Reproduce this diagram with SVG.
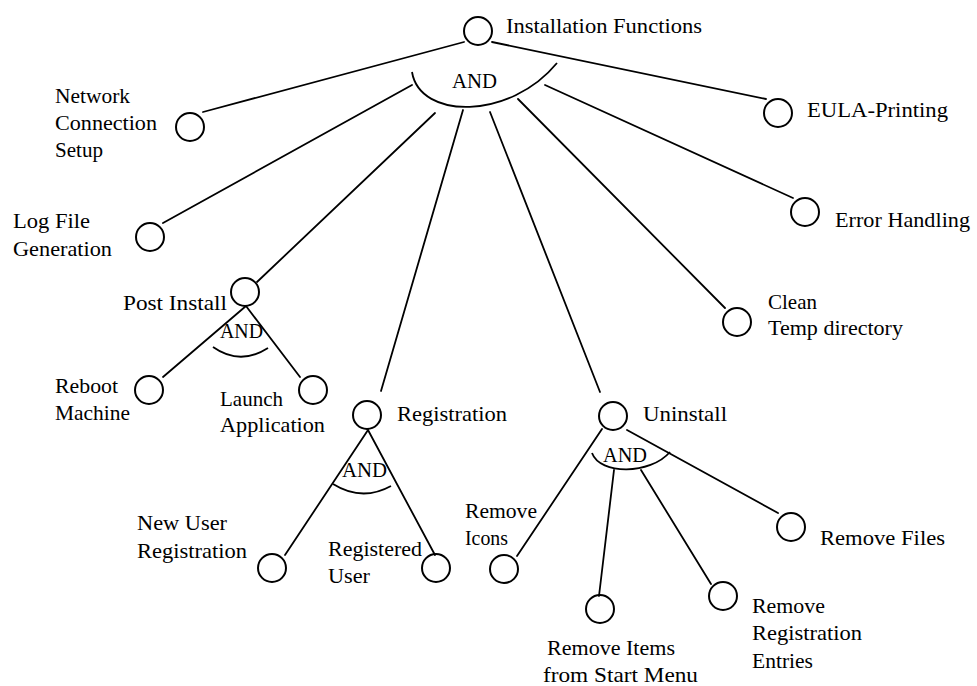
<svg xmlns="http://www.w3.org/2000/svg" width="977" height="686" viewBox="0 0 977 686">
  <style>
    .bg { fill: #ffffff; }
    .node { fill: none; stroke: #000; stroke-width: 2; }
    .edge { fill: none; stroke: #000; stroke-width: 1.8; stroke-linecap: round; }
    .and { fill: none; stroke: #000; stroke-width: 1.8; }
    text { font-family: "Liberation Serif", "Times New Roman", serif; font-size: 21px; fill: #000; }
  </style>
  <rect class="bg" x="0" y="0" width="977" height="686"/>

  <!-- connectors and AND arcs -->
  <g id="connectors">
    <line class="edge" x1="464" y1="42" x2="203" y2="112"/>
    <line class="edge" x1="492" y1="42" x2="766" y2="99"/>
    <path class="and" d="M412,72 C420,120 510,120 557,63"/>
    <line class="edge" x1="412" y1="85" x2="163" y2="223"/>
    <line class="edge" x1="435" y1="113" x2="257" y2="282"/>
    <line class="edge" x1="463" y1="110" x2="381" y2="391"/>
    <line class="edge" x1="490" y1="112" x2="600" y2="392"/>
    <line class="edge" x1="518" y1="99" x2="725" y2="308"/>
    <line class="edge" x1="545" y1="85" x2="793" y2="198"/>

    <line class="edge" x1="246" y1="306" x2="163" y2="377"/>
    <line class="edge" x1="246" y1="306" x2="300" y2="377"/>
    <path class="and" d="M213,347 Q240,366 268,348"/>

    <line class="edge" x1="368" y1="430" x2="285" y2="555"/>
    <line class="edge" x1="368" y1="430" x2="435" y2="555"/>
    <path class="and" d="M333,484 Q362,502 391,486"/>

    <line class="edge" x1="602" y1="429" x2="517" y2="556"/>
    <line class="edge" x1="627" y1="430" x2="778" y2="513"/>
    <line class="edge" x1="614" y1="470" x2="599" y2="596"/>
    <line class="edge" x1="641" y1="470" x2="711" y2="584"/>
    <path class="and" d="M592,453 C600,475 650,475 670,452"/>
  </g>

  <g id="installation-functions">
    <circle class="node" cx="478" cy="31" r="14"/>
    <text x="506" y="33" textLength="196" lengthAdjust="spacingAndGlyphs">Installation Functions</text>
    <text x="452" y="88" textLength="45" lengthAdjust="spacingAndGlyphs">AND</text>
  </g>

  <g id="network-connection-setup">
    <circle class="node" cx="190" cy="127" r="14"/>
    <text x="55" y="103" textLength="75" lengthAdjust="spacingAndGlyphs">Network</text>
    <text x="55" y="130" textLength="102" lengthAdjust="spacingAndGlyphs">Connection</text>
    <text x="55" y="157" textLength="48" lengthAdjust="spacingAndGlyphs">Setup</text>
  </g>

  <g id="eula-printing">
    <circle class="node" cx="778" cy="113" r="14"/>
    <text x="807" y="117" textLength="141" lengthAdjust="spacingAndGlyphs">EULA-Printing</text>
  </g>

  <g id="log-file-generation">
    <circle class="node" cx="150" cy="237" r="14"/>
    <text x="13" y="228" textLength="77" lengthAdjust="spacingAndGlyphs">Log File</text>
    <text x="13" y="256" textLength="99" lengthAdjust="spacingAndGlyphs">Generation</text>
  </g>

  <g id="error-handling">
    <circle class="node" cx="805" cy="212" r="14"/>
    <text x="835" y="227" textLength="135" lengthAdjust="spacingAndGlyphs">Error Handling</text>
  </g>

  <g id="post-install">
    <circle class="node" cx="245" cy="292" r="14"/>
    <text x="123" y="310" textLength="104" lengthAdjust="spacingAndGlyphs">Post Install</text>
    <text x="220" y="338" textLength="43" lengthAdjust="spacingAndGlyphs">AND</text>
  </g>

  <g id="clean-temp-directory">
    <circle class="node" cx="737" cy="322" r="14"/>
    <text x="768" y="309" textLength="49" lengthAdjust="spacingAndGlyphs">Clean</text>
    <text x="768" y="335" textLength="135" lengthAdjust="spacingAndGlyphs">Temp directory</text>
  </g>

  <g id="reboot-machine">
    <circle class="node" cx="149" cy="390" r="14"/>
    <text x="55" y="393" textLength="63" lengthAdjust="spacingAndGlyphs">Reboot</text>
    <text x="55" y="420" textLength="75" lengthAdjust="spacingAndGlyphs">Machine</text>
  </g>

  <g id="launch-application">
    <circle class="node" cx="313" cy="390" r="14"/>
    <text x="220" y="406" textLength="63" lengthAdjust="spacingAndGlyphs">Launch</text>
    <text x="220" y="432" textLength="105" lengthAdjust="spacingAndGlyphs">Application</text>
  </g>

  <g id="registration">
    <circle class="node" cx="367" cy="415" r="14"/>
    <text x="397" y="421" textLength="110" lengthAdjust="spacingAndGlyphs">Registration</text>
    <text x="342" y="477" textLength="45" lengthAdjust="spacingAndGlyphs">AND</text>
  </g>

  <g id="uninstall">
    <circle class="node" cx="613" cy="416" r="14"/>
    <text x="643" y="421" textLength="84" lengthAdjust="spacingAndGlyphs">Uninstall</text>
    <text x="603" y="462" textLength="44" lengthAdjust="spacingAndGlyphs">AND</text>
  </g>

  <g id="new-user-registration">
    <circle class="node" cx="272" cy="568" r="14"/>
    <text x="137" y="530" textLength="90" lengthAdjust="spacingAndGlyphs">New User</text>
    <text x="137" y="558" textLength="110" lengthAdjust="spacingAndGlyphs">Registration</text>
  </g>

  <g id="registered-user">
    <circle class="node" cx="436" cy="568" r="14"/>
    <text x="328" y="556" textLength="94" lengthAdjust="spacingAndGlyphs">Registered</text>
    <text x="328" y="583" textLength="42" lengthAdjust="spacingAndGlyphs">User</text>
  </g>

  <g id="remove-icons">
    <circle class="node" cx="504" cy="569" r="14"/>
    <text x="465" y="518" textLength="72" lengthAdjust="spacingAndGlyphs">Remove</text>
    <text x="465" y="545" textLength="43" lengthAdjust="spacingAndGlyphs">Icons</text>
  </g>

  <g id="remove-items-start-menu">
    <circle class="node" cx="600" cy="609" r="14"/>
    <text x="547" y="655" textLength="128" lengthAdjust="spacingAndGlyphs">Remove Items</text>
    <text x="543" y="682" textLength="155" lengthAdjust="spacingAndGlyphs">from Start Menu</text>
  </g>

  <g id="remove-registration-entries">
    <circle class="node" cx="723" cy="596" r="14"/>
    <text x="752" y="613" textLength="73" lengthAdjust="spacingAndGlyphs">Remove</text>
    <text x="752" y="640" textLength="110" lengthAdjust="spacingAndGlyphs">Registration</text>
    <text x="752" y="668" textLength="61" lengthAdjust="spacingAndGlyphs">Entries</text>
  </g>

  <g id="remove-files">
    <circle class="node" cx="791" cy="527" r="14"/>
    <text x="820" y="545" textLength="125" lengthAdjust="spacingAndGlyphs">Remove Files</text>
  </g>
</svg>
